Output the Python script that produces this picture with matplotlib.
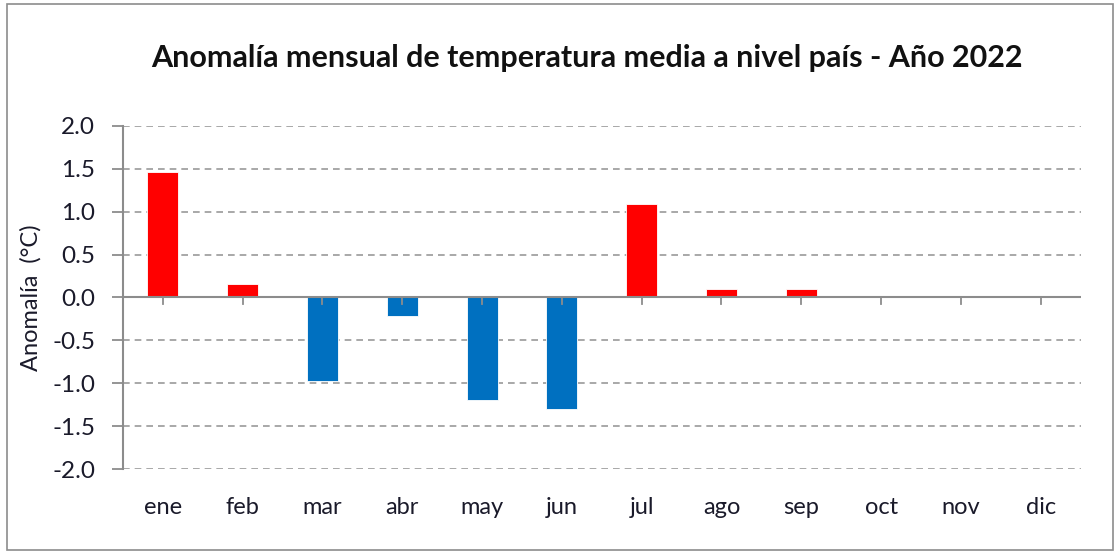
import matplotlib.pyplot as plt
from matplotlib.patches import Rectangle

# ------------ data ------------
months = ["ene", "feb", "mar", "abr", "may", "jun", "jul", "ago", "sep", "oct", "nov", "dic"]
anomaly = [1.46, 0.16, -0.97, -0.22, -1.19, -1.30, 1.09, 0.10, 0.10, None, None, None]
yticks = [-2.0, -1.5, -1.0, -0.5, 0.0, 0.5, 1.0, 1.5, 2.0]

# ------------ plotting ------------
plt.rcParams['font.family'] = ['Lato', 'DejaVu Sans']

fig = plt.figure(figsize=(11.2, 5.54), dpi=100)
ax = fig.add_axes([0.1098, 0.1534, 0.855, 0.6192])

xs = [i for i, v in enumerate(anomaly) if v is not None]
vals = [v for v in anomaly if v is not None]
cols = ['#ff0000' if v >= 0 else '#0070c0' for v in vals]
ax.bar(xs, vals, width=0.39, color=cols, edgecolor='white', linewidth=0.6, zorder=3)

ax.set_xlim(-0.5, len(months) - 0.5)
ax.set_ylim(-2.0, 2.0)
ax.set_yticks(yticks)
ax.set_yticklabels([f"{t:.1f}" for t in yticks], fontsize=17.5, color='#1a1a2a')
ax.set_xticks(range(len(months)))
ax.set_xticklabels([])
for i, m in enumerate(months):
    ax.text(i, -2.45, m, ha='center', va='center', fontsize=17, color='#1a1a2a')

ax.grid(axis='y', linestyle=(0, (4, 3)), color='#999999', linewidth=1.2, zorder=0)
ax.axhline(0, color='#8c8c8c', linewidth=1.5, zorder=4)
ax.xaxis.set_ticks_position('none')
for i in range(len(months)):
    ax.plot([i, i], [0, -0.08], color='#8c8c8c', linewidth=1.3, zorder=4, clip_on=False)

for s in ['top', 'right', 'bottom']:
    ax.spines[s].set_visible(False)
ax.spines['left'].set_color('#8c8c8c')
ax.spines['left'].set_linewidth(1.5)
ax.tick_params(axis='y', length=8, color='#8c8c8c', width=1.3, pad=12)

ax.set_ylabel("Anomalía  (°C)", fontsize=17, color='#1a1a2a', labelpad=8)

fig.text(0.524, 0.895, "Anomalía mensual de temperatura media a nivel país - Año 2022",
         ha='center', va='center', fontsize=22, fontweight='bold', color='#111111')

fig.patches.append(Rectangle((0.006, 0.008), 0.988, 0.984, transform=fig.transFigure,
                             fill=False, edgecolor='#8c8c8c', linewidth=1.2))

fig.savefig("out.png", dpi=100)
